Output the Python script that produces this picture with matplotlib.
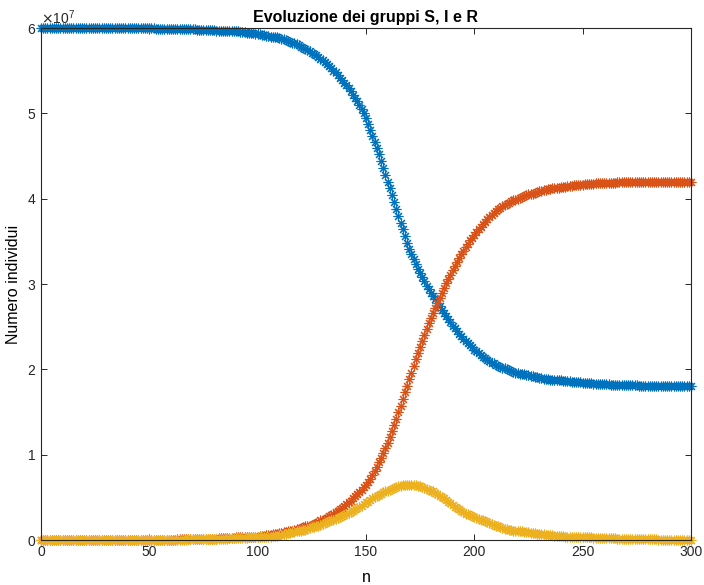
import matplotlib
matplotlib.use("Agg")
import matplotlib.pyplot as plt
import numpy as np
from matplotlib.ticker import ScalarFormatter

plt.rcParams["font.family"] = ["Liberation Sans", "DejaVu Sans"]

# step index of the simulation
n = np.arange(0, 301)

# values, in units of 10^7 people (one row = 10 steps)
S_vals = [
    6.00, 6.00, 6.00, 6.00, 6.00, 6.00, 6.00, 6.00, 6.00, 6.00,
    6.00, 6.00, 6.00, 6.00, 6.00, 6.00, 6.00, 6.00, 6.00, 6.00,
    6.00, 6.00, 6.00, 6.00, 6.00, 6.00, 6.00, 6.00, 6.00, 6.00,
    6.00, 6.00, 6.00, 6.00, 6.00, 6.00, 6.00, 6.00, 6.00, 6.00,
    6.00, 6.00, 6.00, 6.00, 6.00, 6.00, 6.00, 6.00, 6.00, 6.00,
    6.00, 6.00, 6.00, 5.99, 5.99, 5.99, 5.99, 5.99, 5.99, 5.99,
    5.99, 5.99, 5.99, 5.99, 5.99, 5.99, 5.99, 5.99, 5.99, 5.99,
    5.99, 5.99, 5.98, 5.98, 5.98, 5.98, 5.98, 5.98, 5.98, 5.98,
    5.98, 5.97, 5.97, 5.97, 5.97, 5.97, 5.97, 5.96, 5.96, 5.96,
    5.96, 5.96, 5.95, 5.95, 5.95, 5.94, 5.94, 5.94, 5.94, 5.93,
    5.93, 5.93, 5.92, 5.92, 5.91, 5.91, 5.90, 5.90, 5.89, 5.89,
    5.88, 5.87, 5.87, 5.86, 5.85, 5.84, 5.83, 5.82, 5.81, 5.80,
    5.78, 5.77, 5.76, 5.74, 5.73, 5.71, 5.69, 5.68, 5.66, 5.64,
    5.62, 5.60, 5.58, 5.55, 5.53, 5.50, 5.48, 5.45, 5.42, 5.39,
    5.36, 5.33, 5.30, 5.26, 5.22, 5.18, 5.14, 5.10, 5.05, 5.00,
    4.94, 4.88, 4.81, 4.74, 4.67, 4.59, 4.52, 4.44, 4.36, 4.28,
    4.20, 4.12, 4.04, 3.96, 3.88, 3.80, 3.72, 3.64, 3.56, 3.48,
    3.41, 3.35, 3.29, 3.23, 3.18, 3.13, 3.08, 3.03, 2.98, 2.94,
    2.90, 2.86, 2.82, 2.78, 2.74, 2.70, 2.66, 2.62, 2.59, 2.55,
    2.51, 2.48, 2.45, 2.42, 2.39, 2.36, 2.33, 2.31, 2.28, 2.26,
    2.23, 2.21, 2.19, 2.17, 2.15, 2.13, 2.11, 2.10, 2.08, 2.07,
    2.05, 2.04, 2.03, 2.02, 2.01, 2.00, 1.99, 1.98, 1.97, 1.96,
    1.96, 1.95, 1.94, 1.94, 1.93, 1.93, 1.92, 1.92, 1.91, 1.91,
    1.90, 1.90, 1.89, 1.89, 1.89, 1.88, 1.88, 1.88, 1.87, 1.87,
    1.87, 1.86, 1.86, 1.86, 1.86, 1.85, 1.85, 1.85, 1.85, 1.85,
    1.84, 1.84, 1.84, 1.84, 1.84, 1.83, 1.83, 1.83, 1.83, 1.83,
    1.83, 1.83, 1.83, 1.82, 1.82, 1.82, 1.82, 1.82, 1.82, 1.82,
    1.82, 1.82, 1.82, 1.82, 1.82, 1.82, 1.81, 1.81, 1.81, 1.81,
    1.81, 1.81, 1.81, 1.81, 1.81, 1.81, 1.81, 1.81, 1.81, 1.81,
    1.81, 1.81, 1.81, 1.81, 1.81, 1.81, 1.81, 1.81, 1.81, 1.81,
    1.81,
]

I_vals = [
    0.00, 0.00, 0.00, 0.00, 0.00, 0.00, 0.00, 0.00, 0.00, 0.00,
    0.00, 0.00, 0.00, 0.00, 0.00, 0.00, 0.00, 0.00, 0.00, 0.00,
    0.00, 0.00, 0.00, 0.00, 0.00, 0.00, 0.00, 0.00, 0.00, 0.00,
    0.00, 0.00, 0.00, 0.00, 0.00, 0.00, 0.00, 0.00, 0.00, 0.00,
    0.00, 0.00, 0.00, 0.00, 0.00, 0.00, 0.00, 0.00, 0.00, 0.00,
    0.00, 0.00, 0.00, 0.00, 0.00, 0.00, 0.00, 0.00, 0.00, 0.00,
    0.00, 0.00, 0.00, 0.00, 0.00, 0.00, 0.00, 0.00, 0.01, 0.01,
    0.01, 0.01, 0.01, 0.01, 0.01, 0.01, 0.01, 0.01, 0.01, 0.01,
    0.01, 0.01, 0.01, 0.01, 0.01, 0.01, 0.01, 0.02, 0.02, 0.02,
    0.02, 0.02, 0.02, 0.02, 0.02, 0.02, 0.03, 0.03, 0.03, 0.03,
    0.03, 0.03, 0.04, 0.04, 0.04, 0.04, 0.04, 0.05, 0.05, 0.05,
    0.06, 0.06, 0.07, 0.07, 0.08, 0.08, 0.09, 0.09, 0.10, 0.10,
    0.11, 0.12, 0.12, 0.13, 0.14, 0.15, 0.15, 0.16, 0.17, 0.18,
    0.19, 0.20, 0.21, 0.22, 0.23, 0.24, 0.25, 0.26, 0.27, 0.28,
    0.29, 0.30, 0.32, 0.33, 0.34, 0.36, 0.37, 0.39, 0.40, 0.42,
    0.44, 0.45, 0.47, 0.49, 0.50, 0.52, 0.53, 0.54, 0.56, 0.57,
    0.58, 0.59, 0.60, 0.61, 0.62, 0.63, 0.63, 0.64, 0.64, 0.64,
    0.65, 0.64, 0.64, 0.64, 0.63, 0.63, 0.62, 0.61, 0.60, 0.59,
    0.58, 0.57, 0.55, 0.54, 0.52, 0.50, 0.49, 0.47, 0.45, 0.43,
    0.41, 0.39, 0.38, 0.36, 0.34, 0.33, 0.31, 0.30, 0.29, 0.28,
    0.27, 0.26, 0.25, 0.24, 0.23, 0.22, 0.21, 0.20, 0.19, 0.18,
    0.17, 0.16, 0.15, 0.14, 0.13, 0.13, 0.12, 0.12, 0.11, 0.11,
    0.10, 0.10, 0.10, 0.09, 0.09, 0.09, 0.08, 0.08, 0.08, 0.07,
    0.07, 0.07, 0.07, 0.06, 0.06, 0.06, 0.06, 0.05, 0.05, 0.05,
    0.05, 0.05, 0.04, 0.04, 0.04, 0.04, 0.04, 0.04, 0.03, 0.03,
    0.03, 0.03, 0.03, 0.03, 0.03, 0.02, 0.02, 0.02, 0.02, 0.02,
    0.02, 0.02, 0.02, 0.02, 0.02, 0.02, 0.01, 0.01, 0.01, 0.01,
    0.01, 0.01, 0.01, 0.01, 0.01, 0.01, 0.01, 0.01, 0.01, 0.01,
    0.01, 0.01, 0.01, 0.01, 0.01, 0.00, 0.00, 0.00, 0.00, 0.00,
    0.00, 0.00, 0.00, 0.00, 0.00, 0.00, 0.00, 0.00, 0.00, 0.00,
    0.00,
]

R_vals = [
    0.00, 0.00, 0.00, 0.00, 0.00, 0.00, 0.00, 0.00, 0.00, 0.00,
    0.00, 0.00, 0.00, 0.00, 0.00, 0.00, 0.00, 0.00, 0.00, 0.00,
    0.00, 0.00, 0.00, 0.00, 0.00, 0.00, 0.00, 0.00, 0.00, 0.00,
    0.00, 0.00, 0.00, 0.00, 0.00, 0.00, 0.00, 0.00, 0.00, 0.00,
    0.00, 0.00, 0.00, 0.00, 0.00, 0.00, 0.00, 0.00, 0.00, 0.00,
    0.00, 0.00, 0.00, 0.00, 0.00, 0.00, 0.00, 0.00, 0.00, 0.00,
    0.00, 0.00, 0.00, 0.01, 0.01, 0.01, 0.01, 0.01, 0.01, 0.01,
    0.01, 0.01, 0.01, 0.01, 0.01, 0.01, 0.01, 0.01, 0.01, 0.01,
    0.01, 0.01, 0.02, 0.02, 0.02, 0.02, 0.02, 0.02, 0.02, 0.02,
    0.03, 0.03, 0.03, 0.03, 0.03, 0.03, 0.04, 0.04, 0.04, 0.04,
    0.04, 0.05, 0.05, 0.05, 0.06, 0.06, 0.06, 0.07, 0.07, 0.07,
    0.08, 0.08, 0.09, 0.09, 0.10, 0.11, 0.11, 0.12, 0.13, 0.13,
    0.14, 0.15, 0.16, 0.16, 0.17, 0.18, 0.19, 0.20, 0.21, 0.23,
    0.24, 0.25, 0.26, 0.28, 0.29, 0.31, 0.33, 0.34, 0.36, 0.38,
    0.40, 0.42, 0.44, 0.46, 0.49, 0.51, 0.54, 0.56, 0.59, 0.62,
    0.65, 0.68, 0.72, 0.76, 0.81, 0.86, 0.91, 0.96, 1.02, 1.08,
    1.14, 1.21, 1.28, 1.35, 1.42, 1.50, 1.57, 1.65, 1.73, 1.81,
    1.89, 1.96, 2.04, 2.12, 2.19, 2.26, 2.33, 2.40, 2.47, 2.54,
    2.60, 2.66, 2.72, 2.78, 2.84, 2.90, 2.95, 3.01, 3.06, 3.11,
    3.16, 3.21, 3.26, 3.30, 3.35, 3.39, 3.43, 3.47, 3.51, 3.54,
    3.58, 3.61, 3.64, 3.67, 3.70, 3.73, 3.76, 3.78, 3.81, 3.83,
    3.85, 3.88, 3.89, 3.91, 3.93, 3.94, 3.95, 3.97, 3.98, 3.99,
    4.00, 4.01, 4.02, 4.03, 4.04, 4.05, 4.06, 4.06, 4.07, 4.08,
    4.09, 4.09, 4.10, 4.10, 4.11, 4.11, 4.12, 4.12, 4.13, 4.13,
    4.14, 4.14, 4.14, 4.15, 4.15, 4.15, 4.16, 4.16, 4.16, 4.16,
    4.16, 4.17, 4.17, 4.17, 4.17, 4.17, 4.18, 4.18, 4.18, 4.18,
    4.18, 4.18, 4.18, 4.18, 4.18, 4.18, 4.19, 4.19, 4.19, 4.19,
    4.19, 4.19, 4.19, 4.19, 4.19, 4.19, 4.19, 4.19, 4.19, 4.19,
    4.19, 4.20, 4.20, 4.20, 4.20, 4.20, 4.20, 4.20, 4.20, 4.20,
    4.20, 4.20, 4.20, 4.20, 4.20, 4.20, 4.20, 4.20, 4.20, 4.20,
    4.20,
]

S = np.array(S_vals) * 1e7
I = np.array(I_vals) * 1e7
R = np.array(R_vals) * 1e7

# MATLAB default colour order: S blue, R orange, I yellow (drawn last)
series = [(S, "#0072BD"), (R, "#D95319"), (I, "#EDB120")]

fig = plt.figure(figsize=(7.04, 5.85), dpi=100)
ax = fig.add_axes([0.0582, 0.0769, 0.9233, 0.8752])

for vals, col in series:
    # markers on the limits are drawn whole, like MATLAB does
    ax.plot(n, vals, linestyle="none", marker=(8, 2, 0), markersize=7,
            markeredgewidth=0.8, color=col, clip_on=False)

ax.set_xlim(0, 300)
ax.set_ylim(0, 6e7)
ax.set_xticks([0, 50, 100, 150, 200, 250, 300])
ax.set_yticks(np.arange(0, 7) * 1e7)

fmt = ScalarFormatter(useMathText=True)
fmt.set_powerlimits((0, 0))
ax.yaxis.set_major_formatter(fmt)
ax.yaxis.get_offset_text().set_fontsize(10)

ax.tick_params(direction="in", top=True, right=True, length=4.5, width=0.7,
               labelsize=10, colors="#262626")
for sp in ax.spines.values():
    sp.set_color("#262626")
    sp.set_linewidth(0.8)

ax.set_title("Evoluzione dei gruppi S, I e R", fontsize=11.5, fontweight="bold", pad=4)
ax.set_xlabel("n", fontsize=11.5, labelpad=8)
ax.set_ylabel("Numero individui", fontsize=11.5, labelpad=4)

plt.savefig("out.png", dpi=100)
plt.close()
